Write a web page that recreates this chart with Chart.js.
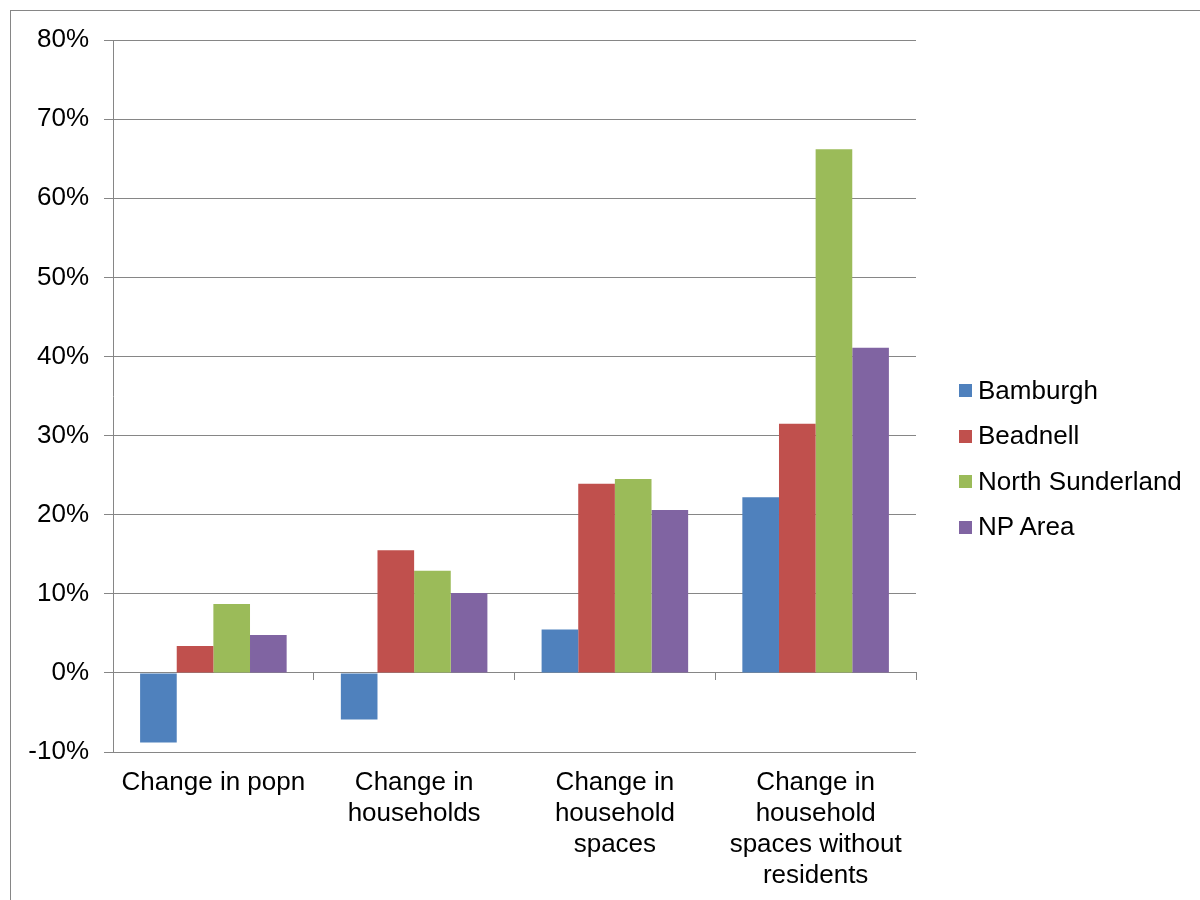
<!DOCTYPE html>
<html>
<head>
<meta charset="utf-8">
<script src="https://cdn.jsdelivr.net/npm/chart.js@4"></script>
<style>
  body { margin: 0; background: #fff; font-family: "Liberation Sans", Arial, sans-serif; }
  #wrap { position: relative; width: 1200px; height: 900px; overflow: hidden; }
  #frame { position: absolute; left: 10px; top: 10px; width: 1300px; height: 1000px; border: 1.5px solid #868686; }
  canvas { position: absolute; left: 0; top: 0; }
  #legend { position: absolute; left: 959px; top: 367px; }
  .item { height: 45.5px; display: flex; align-items: center; font-size: 26px; color: #000; line-height: 36px; }
  .swatch { width: 13px; height: 13px; margin-right: 6px; margin-top: 2px; }
</style>
</head>
<body>
<div id="wrap">
  <div id="frame"></div>
  <canvas id="chart" width="1200" height="900"></canvas>
  <div id="legend"></div>
</div>
<script>
// Categories and series (percent change)
const categories = [
    ['Change in popn'],
    ['Change in', 'households'],
    ['Change in', 'household', 'spaces'],
    ['Change in', 'household', 'spaces without', 'residents']
];
const seriesNames = ['Bamburgh', 'Beadnell', 'North Sunderland', 'NP Area'];
const bamburgh = [-8.8, -5.9, 5.5, 22.2];
const beadnell = [3.4, 15.5, 23.9, 31.5];
const northSunderland = [8.7, 12.9, 24.5, 66.2];
const npArea = [4.8, 10.1, 20.6, 41.1];
const colors = ['#4F81BD', '#C0504D', '#9BBB59', '#8064A2'];
const yTicks = [-10, 0, 10, 20, 30, 40, 50, 60, 70, 80];

const gridGray = '#868686';
const font = { family: '"Liberation Sans", Arial, sans-serif', size: 26 };

const ctx = document.getElementById('chart').getContext('2d');
new Chart(ctx, {
    type: 'bar',
    data: {
        labels: categories,
        datasets: [bamburgh, beadnell, northSunderland, npArea].map((d, i) => ({
            label: seriesNames[i],
            data: d,
            backgroundColor: colors[i],
            borderWidth: 0,
            categoryPercentage: 0.73,
            barPercentage: 1
        }))
    },
    options: {
        responsive: false,
        animation: false,
        layout: { padding: { top: 40, right: 284, bottom: 0, left: 0 } },
        plugins: {
            legend: { display: false },
            tooltip: { enabled: false }
        },
        scales: {
            x: {
                offset: true,
                grid: { display: false, drawTicks: false },
                border: { display: false },
                ticks: {
                    color: '#000',
                    font: { ...font, lineHeight: 31 / 26 },
                    padding: 15,
                    maxRotation: 0,
                    autoSkip: false
                },
                afterFit: s => { s.height = 148; }
            },
            x2: {
                type: 'category',
                labels: categories,
                position: { y: 0 },
                offset: true,
                grid: { offset: true, drawOnChartArea: false, color: gridGray, tickLength: 7 },
                border: { color: gridGray },
                ticks: { display: false }
            },
            y: {
                min: -10,
                max: 80,
                afterBuildTicks: s => { s.ticks = yTicks.map(v => ({ value: v })); },
                grid: { color: gridGray, tickLength: 9 },
                border: { color: gridGray },
                ticks: {
                    color: '#000',
                    font: font,
                    padding: 15,
                    callback: v => v + '%'
                },
                afterFit: s => { s.width = 113; }
            }
        }
    }
});

// Legend
const legend = document.getElementById('legend');
seriesNames.forEach((name, i) => {
    const item = document.createElement('div');
    item.className = 'item';
    item.innerHTML = '<span class="swatch" style="background:' + colors[i] + '"></span>' + name;
    legend.appendChild(item);
});
</script>
</body>
</html>
